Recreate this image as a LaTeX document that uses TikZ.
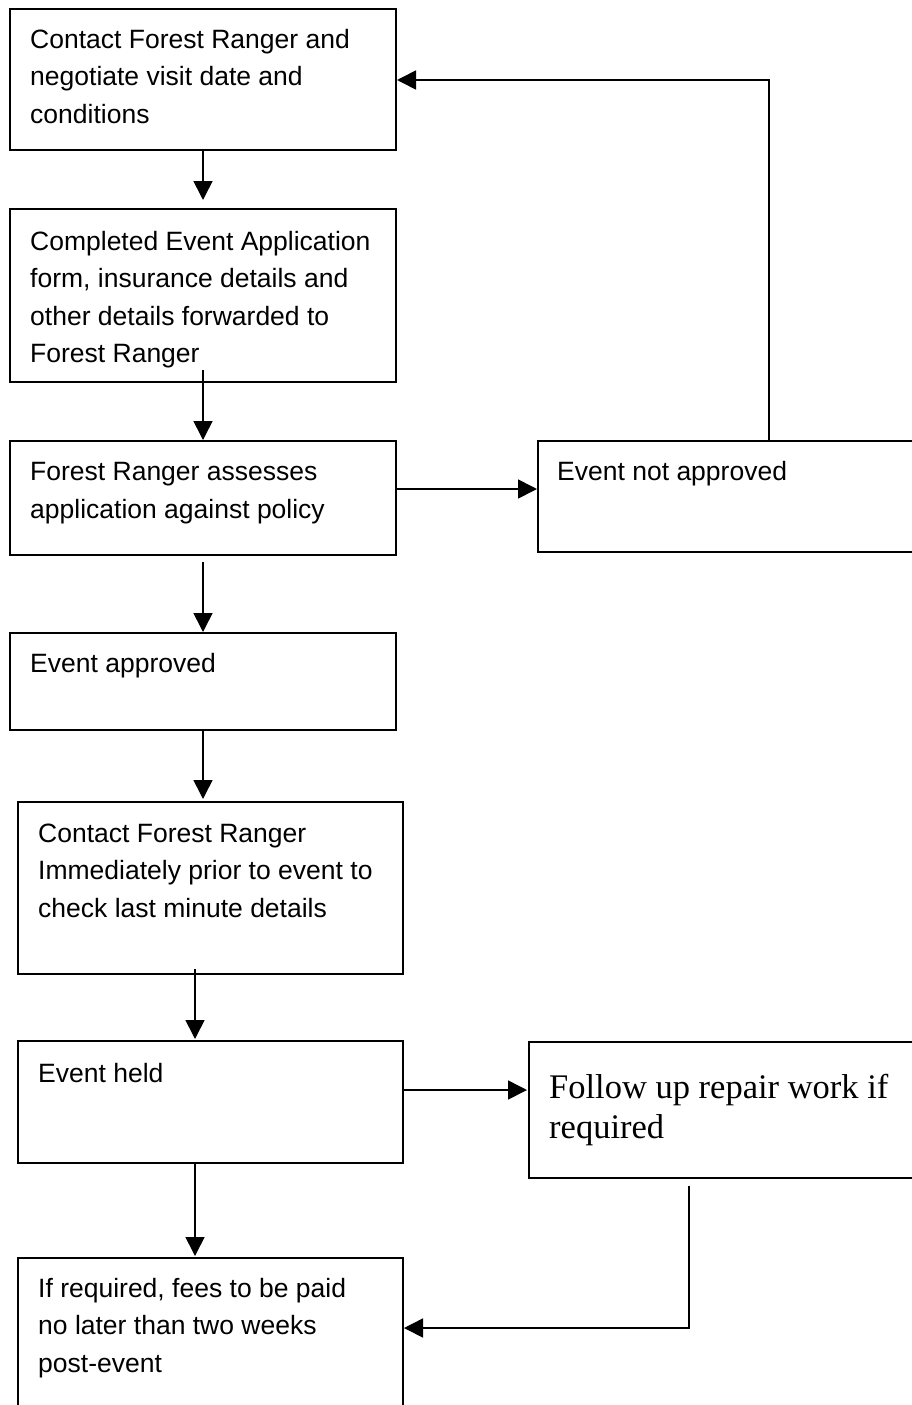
\documentclass[tikz,border=0pt]{standalone}
\usepackage{fontspec}
\setmainfont{Liberation Sans}
\newfontfamily\fuserif{Liberation Serif}
\usetikzlibrary{arrows.meta,calc}
\tikzset{
  box/.style={draw=black, line width=2pt, rectangle, inner sep=0pt, anchor=north west},
  txt/.style={inner sep=0pt, anchor=base west, align=flush left, text width=370pt,
              font=\fontsize{26.5}{37.5}\selectfont},
  sertxt/.style={inner sep=0pt, anchor=base west, align=flush left, text width=360pt,
              font=\fuserif\fontsize{34.5}{40}\selectfont},
  arr/.style={draw=black, line width=1.6pt, -{Triangle[length=19pt,width=19pt]}},
}
\begin{document}
\begin{tikzpicture}[x=1pt,y=-1pt]
\useasboundingbox (0,0) rectangle (912,1405);
% boxes
\node[box, minimum width=386pt, minimum height=141pt] (b1) at (9,8) {};
\node[box, minimum width=386pt, minimum height=173pt] (b2) at (9,208) {};
\node[box, minimum width=386pt, minimum height=114pt] (b3) at (9,440) {};
\node[box, minimum width=383pt, minimum height=111pt] (na) at (537,440) {};
\node[box, minimum width=386pt, minimum height=97pt]  (b4) at (9,632) {};
\node[box, minimum width=385pt, minimum height=172pt] (b5) at (17,801) {};
\node[box, minimum width=385pt, minimum height=122pt] (b6) at (17,1040) {};
\node[box, minimum width=392pt, minimum height=136pt] (fu) at (528,1041) {};
\node[box, minimum width=385pt, minimum height=170pt] (b7) at (17,1257) {};
% texts
\node[txt] (t1) at (30,48.3) {Contact Forest Ranger and\\negotiate visit date and\\conditions};
\node[txt] (t2) at (30,250) {Completed Event Application\\form, insurance details and\\other details forwarded to\\Forest Ranger};
\node[txt] (t3) at (30,480.5) {Forest Ranger assesses\\application against policy};
\node[txt] (tna) at (557,480) {Event not approved};
\node[txt] (t4) at (30,672) {Event approved};
\node[txt] (t5) at (38,842) {Contact Forest Ranger\\Immediately prior to event to\\check last minute details};
\node[txt] (t6) at (38,1082) {Event held};
\node[sertxt] (tfu) at (549,1098) {Follow up repair work if\\required};
\node[txt] (t7) at (38,1297) {If required, fees to be paid\\no later than two weeks\\post-event};
% connectors
\coordinate (c1) at (769,80);
\coordinate (c2) at (689,1328);
\draw[arr] (b1.south) -- ([yshift=8pt]b2.north);
\draw[arr] ([yshift=13pt]b2.south) -- (b3.north);
\draw[arr] ([yshift=-6pt]b3.south) -- (b4.north);
\draw[arr] ([yshift=2pt]b4.south) -- ($(b4.south |- b5.north)+(0,-2)$);
\draw[arr] ([xshift=-15.5pt,yshift=6pt]b5.south) -- ([xshift=-15.5pt,yshift=1pt]b6.north);
\draw[arr] ([xshift=-15.5pt,yshift=2pt]b6.south) -- ([xshift=-15.5pt,yshift=1pt]b7.north);
\draw[arr] ([yshift=9pt]b3.east) -- ([yshift=9pt]b3.east -| na.west);
\draw[arr] (na.north -| c1) -- (c1) -- (c1 -| b1.east);
\draw[arr] ([xshift=-1pt,yshift=12pt]b6.east) -- ([xshift=-1pt,yshift=12pt]b6.east -| fu.west);
\draw[arr] ([yshift=-7pt]fu.south -| c2) -- (c2) -- (c2 -| b7.east);
\end{tikzpicture}
\end{document}
